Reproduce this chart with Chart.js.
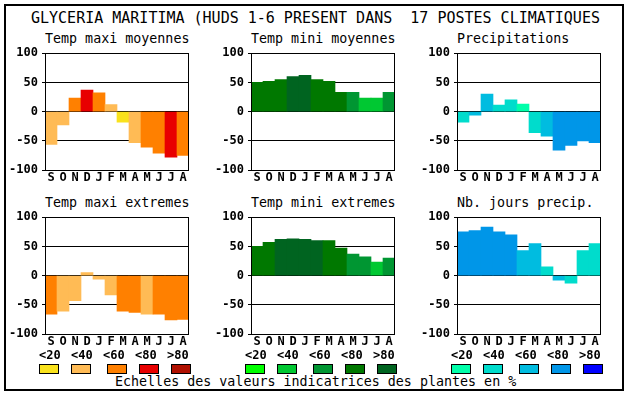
<!DOCTYPE html>
<html>
<head>
<meta charset="utf-8">
<script src="https://cdn.jsdelivr.net/npm/chart.js@4"></script>
<style>
  body { margin: 0; background: #fff; }
  #page { position: relative; width: 630px; height: 394px; overflow: hidden; }
  #frame { position: absolute; left: 4px; top: 4px; width: 616px; height: 383px; border: 2px solid #000; }
  .txt { position: absolute; font-family: "DejaVu Sans Mono", monospace; color: #000; white-space: pre; }
  .box { position: absolute; width: 18px; height: 8px; border: 1px solid #000; top: 364px; }
  canvas { position: absolute; }
</style>
</head>
<body>
<div id="page"><div id="frame"></div></div>
<script>
// Data
const months = ['S', 'O', 'N', 'D', 'J', 'F', 'M', 'A', 'M', 'J', 'J', 'A'];
const yTicks = [-100, -50, 0, 50, 100];
const classLabels = ['<20', '<40', '<60', '<80', '>80'];

const mainTitle = 'GLYCERIA MARITIMA (HUDS 1-6 PRESENT DANS  17 POSTES CLIMATIQUES';
const footer = 'Echelles des valeurs indicatrices des plantes en %';

const panelTitles = ['Temp maxi moyennes', 'Temp mini moyennes', 'Precipitations',
                     'Temp maxi extremes', 'Temp mini extremes', 'Nb. jours precip.'];

const tmaxMoy    = [-56, -23, 23, 37, 32, 12, -18, -53, -61, -71, -78, -75];
const tminMoy    = [50, 52, 55, 60, 62, 55, 52, 33, 33, 23, 23, 33];
const precip     = [-18, -6, 30, 11, 20, 13, -36, -42, -66, -58, -50, -53];
const tmaxExt    = [-66, -61, -43, 5, -6, -33, -61, -63, -66, -66, -76, -75];
const tminExt    = [50, 57, 62, 63, 62, 60, 60, 47, 37, 32, 23, 30];
const joursPrec  = [75, 77, 83, 75, 70, 43, 55, 15, -8, -13, 43, 55];

// indicator class of each bar (0: <20 ... 4: >80)
const tmaxMoyCls   = [1, 1, 2, 3, 2, 1, 0, 1, 2, 2, 3, 2];
const tminMoyCls   = [3, 3, 3, 4, 4, 3, 3, 3, 2, 1, 1, 2];
const precipCls    = [1, 2, 2, 1, 1, 0, 1, 2, 3, 3, 3, 3];
const tmaxExtCls   = [2, 1, 1, 1, 1, 1, 2, 2, 1, 2, 2, 2];
const tminExtCls   = [3, 3, 4, 4, 4, 4, 3, 3, 2, 2, 1, 2];
const joursPrecCls = [3, 3, 3, 3, 3, 2, 2, 1, 2, 1, 1, 1];

const warm  = ['#f9e21c', '#ffbb55', '#ff8000', '#e80000', '#b01000'];
const green = ['#00ff00', '#00c832', '#009632', '#007800', '#006420'];
const blue  = ['#00ffaa', '#00dccc', '#00bce0', '#0096e8', '#0000ff'];

const panels = [
  { values: tmaxMoy,   cls: tmaxMoyCls,   pal: warm },
  { values: tminMoy,   cls: tminMoyCls,   pal: green },
  { values: precip,    cls: precipCls,    pal: blue },
  { values: tmaxExt,   cls: tmaxExtCls,   pal: warm },
  { values: tminExt,   cls: tminExtCls,   pal: green },
  { values: joursPrec, cls: joursPrecCls, pal: blue }
];

const plotLefts = [45, 251, 457];
const plotTops = [50, 214];

const page = document.getElementById('page');

function addText(str, left, top, size, bold) {
  const d = document.createElement('div');
  d.className = 'txt';
  d.textContent = str;
  d.style.left = left + 'px';
  d.style.top = top + 'px';
  d.style.fontSize = size + 'px';
  d.style.lineHeight = size + 'px';
  if (bold) d.style.fontWeight = 'bold';
  page.appendChild(d);
}

// frame round the plot area
const framePlugin = {
  id: 'plotFrame',
  afterDraw(chart) {
    const a = chart.chartArea;
    const ctx = chart.ctx;
    ctx.save();
    ctx.strokeStyle = '#000';
    ctx.lineWidth = 1;
    ctx.strokeRect(Math.round(a.left) + 0.5, Math.round(a.top) + 0.5,
                   Math.round(a.right - a.left) - 1, Math.round(a.bottom - a.top));
    ctx.restore();
  }
};

addText(mainTitle, 31, 11, 15);
addText(footer, 115, 375, 13.33);

panels.forEach((p, i) => {
  const col = i % 3, row = Math.floor(i / 3);
  const left = plotLefts[col], top = plotTops[row];

  addText(panelTitles[i], left, top - 18.5, 13.33);

  const canvas = document.createElement('canvas');
  canvas.width = 186;
  canvas.height = 146;
  canvas.style.left = (left - 40) + 'px';
  canvas.style.top = (top - 8) + 'px';
  page.appendChild(canvas);

  new Chart(canvas.getContext('2d'), {
    type: 'bar',
    data: {
      labels: months,
      datasets: [{
        data: p.values,
        backgroundColor: p.cls.map(c => p.pal[c]),
        borderWidth: 0,
        barPercentage: 1,
        categoryPercentage: 1
      }]
    },
    options: {
      responsive: false,
      animation: false,
      devicePixelRatio: 1,
      layout: { padding: { top: 8, right: 2, left: 0, bottom: 0 } },
      plugins: { legend: { display: false }, tooltip: { enabled: false } },
      scales: {
        x: {
          grid: { display: false, drawTicks: false },
          border: { display: false },
          ticks: {
            color: '#000', padding: 1, maxRotation: 0, autoSkip: false,
            font: { family: 'DejaVu Sans Mono', size: 12, weight: 'bold' }
          },
          afterFit: s => { s.height = 18; }
        },
        y: {
          min: -100, max: 100,
          z: 1,
          afterBuildTicks: s => { s.ticks = yTicks.map(v => ({ value: v })); },
          grid: { color: '#000', lineWidth: 1, tickLength: 3, tickColor: '#000' },
          border: { display: false },
          ticks: {
            color: '#000', padding: 4,
            font: { family: 'DejaVu Sans Mono', size: 12, weight: 'bold' }
          },
          afterFit: s => { s.width = 40; }
        }
      }
    },
    plugins: [framePlugin]
  });

  // colour scale legend under the bottom row
  if (row === 1) {
    const boxOffsets = [0, 32, 68, 100, 132];
    classLabels.forEach((lab, k) => {
      addText(lab, left - 6 + 32 * k, 348.5, 12, true);
      const b = document.createElement('div');
      b.className = 'box';
      b.style.left = (left - 6 + boxOffsets[k]) + 'px';
      b.style.background = p.pal[k];
      page.appendChild(b);
    });
  }
});
</script>
</body>
</html>
